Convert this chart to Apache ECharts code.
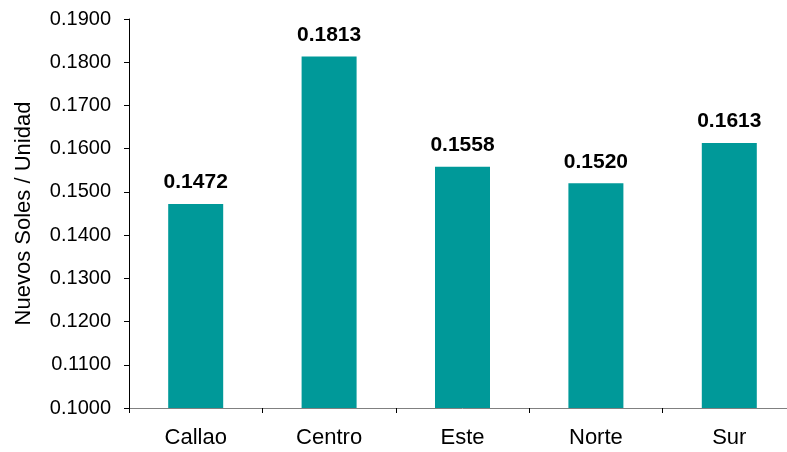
<!DOCTYPE html>
<html>
<head>
<meta charset="utf-8">
<script src="https://cdn.jsdelivr.net/npm/echarts@6/dist/echarts.min.js"></script>
<style>
html,body{margin:0;padding:0;background:#fff;overflow:hidden;width:787px;height:452px;}
#c{width:800px;height:452px;}
</style>
</head>
<body>
<div id="c"></div>
<script>
var categories = ['Callao', 'Centro', 'Este', 'Norte', 'Sur'];
var values = [0.1472, 0.1813, 0.1558, 0.1520, 0.1613];
var yAxisName = 'Nuevos Soles / Unidad';

var chart = echarts.init(document.getElementById('c'));
var font = '"Liberation Sans", Arial, sans-serif';
chart.setOption({
  animation: false,
  grid: { left: 129, right: 4, top: 19, bottom: 44, containLabel: false },
  xAxis: {
    type: 'category',
    data: categories,
    axisLine: { lineStyle: { color: '#808080', width: 1 } },
    axisTick: { show: true, length: 5, lineStyle: { color: '#000' } },
    axisLabel: { color: '#000', fontSize: 22, fontFamily: font, margin: 19 }
  },
  yAxis: {
    type: 'value',
    min: 0.1, max: 0.19, interval: 0.01,
    name: yAxisName,
    nameLocation: 'middle',
    nameGap: 94,
    nameTextStyle: { color: '#000', fontSize: 22, fontFamily: font },
    axisLine: { show: true, lineStyle: { color: '#000', width: 1 } },
    axisTick: { show: true, length: 5, lineStyle: { color: '#000' } },
    splitLine: { show: false },
    axisLabel: {
      color: '#000', fontSize: 20, fontFamily: font, margin: 18,
      formatter: function (v) { return v.toFixed(4); }
    }
  },
  series: [{
    type: 'bar',
    data: values,
    barWidth: 55,
    itemStyle: { color: '#009999' },
    label: {
      show: true, position: 'top', distance: 11,
      color: '#000', fontSize: 21, fontWeight: 'bold', fontFamily: font,
      formatter: function (p) { return p.value.toFixed(4); }
    }
  }]
});
</script>
</body>
</html>
